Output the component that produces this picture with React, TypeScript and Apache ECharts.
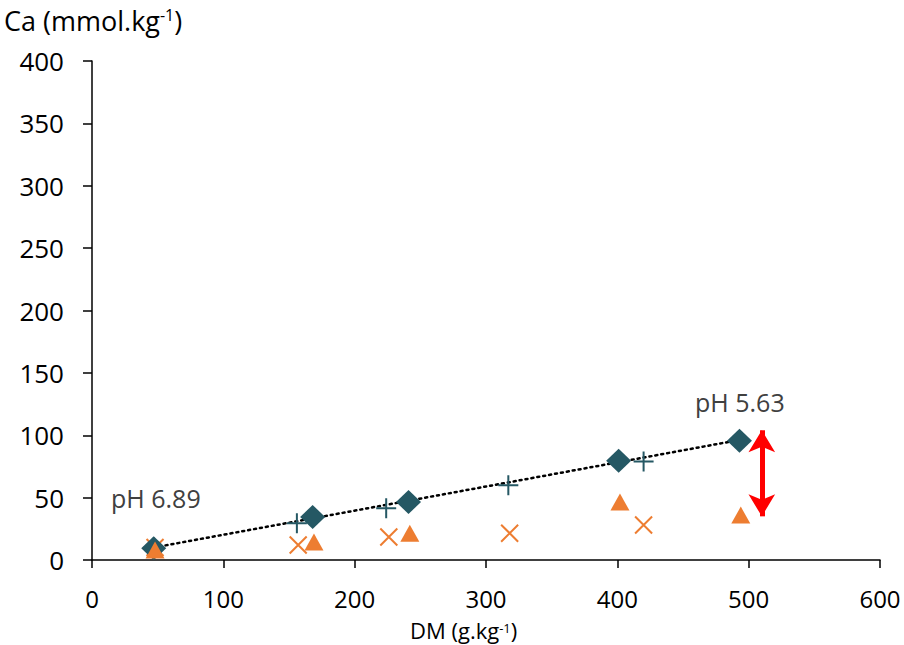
import React, { useEffect, useRef } from "react";
import * as echarts from "echarts";

const diamondX = [47, 168, 241, 401, 493];
const diamondY = [9.5, 34.5, 46.5, 79.5, 95.5];
const plusX = [47, 156, 224, 317, 420];
const plusY = [10, 29.5, 41.5, 60, 79];
const crossX = [48, 157, 226, 318, 420];
const crossY = [10, 12, 18.5, 21.5, 28];
const triX = [48, 169, 242, 402, 494];
const triY = [8, 14.5, 21.5, 46.5, 36];
const xTicks = [0, 100, 200, 300, 400, 500, 600];
const yTicks = [0, 50, 100, 150, 200, 250, 300, 350, 400];
const arrowX = 510;
const arrowTop = 104;
const arrowBottom = 35;

const TEAL = "#255864";
const ORANGE = "#ED7D31";
const FONT = "Open Sans";

function zip(xs: number[], ys: number[]) {
  return xs.map((x, i) => [x, ys[i]]);
}

function trend(xs: number[], ys: number[]) {
  const n = xs.length;
  const mx = xs.reduce((a, b) => a + b, 0) / n;
  const my = ys.reduce((a, b) => a + b, 0) / n;
  let sxy = 0, sxx = 0;
  for (let i = 0; i < n; i++) {
    sxy += (xs[i] - mx) * (ys[i] - my);
    sxx += (xs[i] - mx) * (xs[i] - mx);
  }
  const b = sxy / sxx;
  const a = my - b * mx;
  const x0 = Math.min(...xs);
  const x1 = Math.max(...xs);
  return [[x0, a + b * x0], [x1, a + b * x1]];
}

export default function App() {
  const ref = useRef<HTMLDivElement>(null);
  useEffect(() => {
    const chart = echarts.init(ref.current!, null, { renderer: "svg" });
    chart.setOption({
      animation: false,
      backgroundColor: "#fff",
      textStyle: { fontFamily: FONT },
      grid: { left: 92, right: 24, top: 61, bottom: 85 },
      xAxis: {
        type: "value",
        min: xTicks[0],
        max: xTicks[xTicks.length - 1],
        interval: 100,
        axisLine: { show: true, lineStyle: { color: "#000", width: 1.5 } },
        axisTick: { show: true, length: 8, inside: false, lineStyle: { color: "#000", width: 1.5 } },
        axisLabel: { fontSize: 24, color: "#000", margin: 29, lineHeight: 18, verticalAlign: "top", fontFamily: FONT },
        splitLine: { show: false },
      },
      yAxis: {
        type: "value",
        min: yTicks[0],
        max: yTicks[yTicks.length - 1],
        interval: 50,
        axisLine: { show: true, lineStyle: { color: "#000", width: 1.5 } },
        axisTick: { show: true, length: 9, inside: false, lineStyle: { color: "#000", width: 1.5 } },
        axisLabel: { fontSize: 26, color: "#000", margin: 28, fontFamily: FONT },
        splitLine: { show: false },
      },
      series: [
        {
          type: "line",
          data: trend(diamondX, diamondY),
          symbol: "none",
          lineStyle: { color: "#000", width: 2.5, type: [2, 4], cap: "round" },
          z: 1,
          silent: true,
        },
        {
          type: "scatter",
          data: zip(crossX, crossY),
          symbol: "path://M-10,-10L10,10M10,-10L-10,10",
          symbolSize: 17,
          itemStyle: { color: "none", borderColor: ORANGE, borderWidth: 2, opacity: 1 },
          z: 2,
        },
        {
          type: "scatter",
          data: zip(plusX, plusY),
          symbol: "path://M0,-10L0,10M-10,0L10,0",
          symbolSize: 20,
          itemStyle: { color: "none", borderColor: TEAL, borderWidth: 2, opacity: 1 },
          z: 3,
        },
        {
          type: "scatter",
          data: zip(diamondX, diamondY),
          symbol: "diamond",
          symbolSize: [25, 24],
          itemStyle: { color: TEAL, opacity: 1 },
          z: 4,
        },
        {
          type: "scatter",
          data: zip(triX, triY),
          symbol: "triangle",
          symbolSize: [19, 17],
          itemStyle: { color: ORANGE, opacity: 1 },
          z: 5,
          markLine: {
            silent: true,
            symbol: ["arrow", "arrow"],
            symbolSize: [20, 22],
            label: { show: false },
            lineStyle: { color: "#FF0000", width: 5, type: "solid", opacity: 1 },
            data: [[{ coord: [arrowX, arrowTop] }, { coord: [arrowX, arrowBottom] }]],
          },
        },
      ],
      graphic: [
        {
          type: "text",
          left: 4,
          top: 7,
          style: {
            text: "Ca (mmol.kg{s|-1})",
            font: `27px '${FONT}'`,
            fill: "#000",
            rich: { s: { fontSize: 16, verticalAlign: "top", fontFamily: FONT, padding: [0, 0, 8, 0] } },
          },
        },
        {
          type: "text",
          x: 410,
          y: 630,
          style: {
            text: "DM (g.kg{s|-1})",
            font: `22px '${FONT}'`,
            fill: "#000",
            verticalAlign: "middle",
            lineHeight: 18,
            rich: { s: { fontSize: 13, lineHeight: 18, verticalAlign: "top", fontFamily: FONT } },
          },
        },
        {
          type: "text",
          left: 111,
          top: 485,
          style: { text: "pH 6.89", font: `25px '${FONT}'`, fill: "#404040" },
        },
        {
          type: "text",
          left: 695,
          top: 389,
          style: { text: "pH 5.63", font: `25px '${FONT}'`, fill: "#404040" },
        },
      ],
    });
    return () => chart.dispose();
  }, []);
  return <div ref={ref} style={{ width: 904, height: 645, position: "absolute", left: 0, top: 0 }} />;
}
